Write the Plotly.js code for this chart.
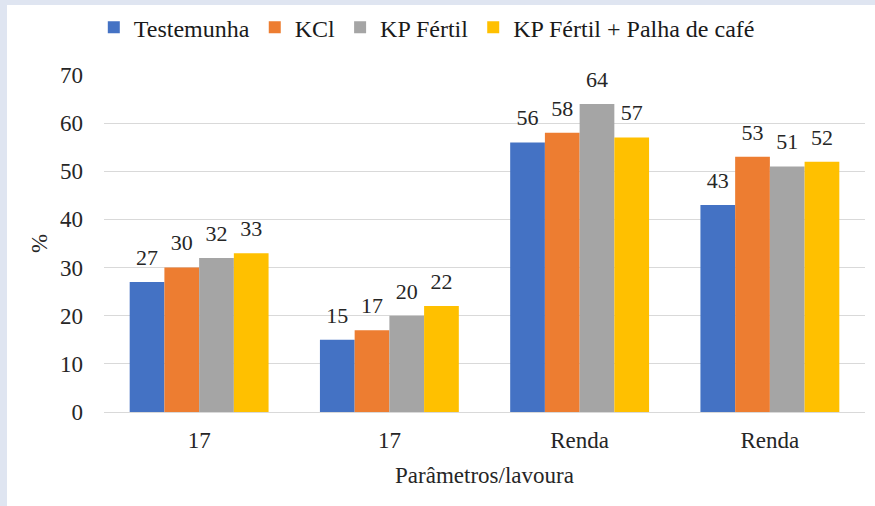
<!DOCTYPE html>
<html>
<head>
<meta charset="utf-8">
<script src="https://cdn.plot.ly/plotly-3.0.1.min.js"></script>
<style>
html,body{margin:0;padding:0;background:#dfe5f1;width:875px;height:506px;overflow:hidden;}
#chart{position:absolute;left:7px;top:5px;width:868px;height:501px;background:#fff;}
</style>
</head>
<body>
<div id="chart"></div>
<script>
var categories = [0, 1, 2, 3];
var tickLabels = ["17", "17", "Renda", "Renda"];
var seriesNames = ["Testemunha", "KCl", "KP Fértil", "KP Fértil + Palha de café"];
var testemunha = [27, 15, 56, 43];
var kcl = [30, 17, 58, 53];
var kpFertil = [32, 20, 64, 51];
var kpFertilPalha = [33, 22, 57, 52];
var colors = ["#4472C4", "#ED7D31", "#A5A5A5", "#FFC000"];

var font = '"Liberation Serif", "Times New Roman", serif';
var allSeries = [testemunha, kcl, kpFertil, kpFertilPalha];
var traces = allSeries.map(function (vals, i) {
  return {
    type: "bar",
    name: seriesNames[i],
    x: categories,
    y: vals,
    marker: {color: colors[i]},
    hoverinfo: "y+name"
  };
});
var labelTraces = allSeries.map(function (vals, i) {
  return {
    type: "scatter",
    mode: "markers+text",
    showlegend: false,
    x: categories,
    y: vals,
    text: vals.map(String),
    textposition: "top center",
    marker: {size: 17, color: "rgba(0,0,0,0)"},
    cliponaxis: false,
    textfont: {family: font, size: 22, color: "#262626"},
    hoverinfo: "skip"
  };
});

var layout = {
  width: 868,
  height: 501,
  margin: {l: 97, r: 10, t: 70, b: 94},
  paper_bgcolor: "#ffffff",
  plot_bgcolor: "#ffffff",
  barmode: "group",
  bargap: 0.27,
  bargroupgap: 0,
  scattermode: "group",
  scattergap: 0.27,
  font: {family: font, color: "#262626"},
  showlegend: true,
  legend: {
    orientation: "h",
    x: 0.1, xanchor: "left",
    xref: "container",
    y: 0.955, yanchor: "middle",
    yref: "container",
    font: {family: font, size: 24, color: "#1a1a1a"},
    itemwidth: 30,
    traceorder: "normal"
  },
  xaxis: {
    tickmode: "array",
    tickvals: categories,
    ticktext: tickLabels,
    range: [-0.5, 3.5],
    showgrid: false,
    zeroline: false,
    showline: false,
    ticks: "",
    ticklabelstandoff: 12,
    tickfont: {family: font, size: 23, color: "#262626"},
    title: {text: "Parâmetros/lavoura", font: {family: font, size: 23, color: "#262626"}, standoff: 14}
  },
  yaxis: {
    range: [0, 70],
    dtick: 10,
    showgrid: true,
    gridcolor: "#d9d9d9",
    gridwidth: 1,
    zeroline: true,
    zerolinecolor: "#d9d9d9",
    zerolinewidth: 1,
    showline: false,
    ticks: "",
    ticklabelstandoff: 20,
    tickfont: {family: font, size: 23, color: "#262626"},
    title: {text: "%", font: {family: font, size: 23, color: "#262626"}, standoff: 5}
  }
};

Plotly.newPlot("chart", traces.concat(labelTraces), layout, {displayModeBar: false, staticPlot: true});
</script>
</body>
</html>
